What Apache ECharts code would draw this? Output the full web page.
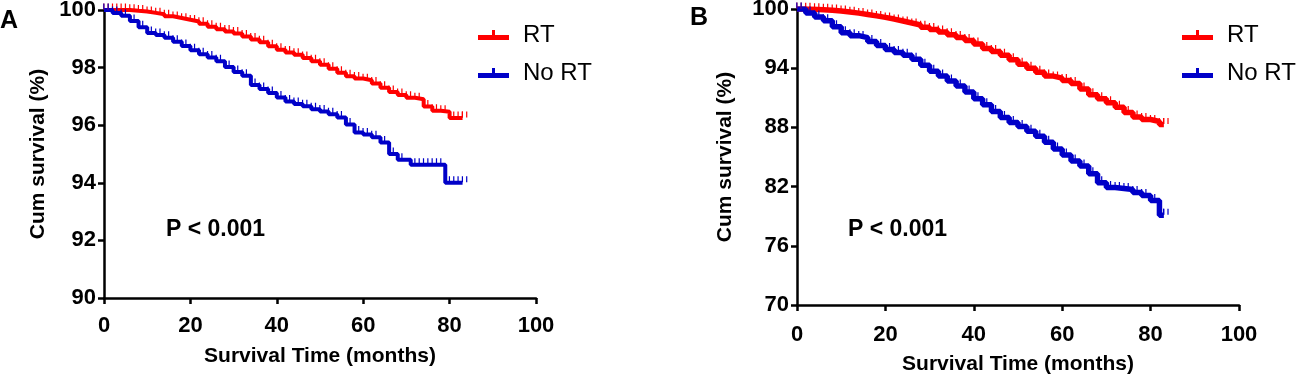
<!DOCTYPE html>
<html>
<head>
<meta charset="utf-8">
<script src="https://cdn.jsdelivr.net/npm/echarts@6/dist/echarts.min.js"></script>
<style>
  html, body { margin: 0; padding: 0; background: #fff; }
  #chart { width: 1298px; height: 375px; }
</style>
</head>
<body>
<div id="chart"></div>
<script>
// panel A
const timeA_RT = [0, 2, 4, 6, 8, 10, 12, 14, 16, 18, 20, 22, 24, 26, 28, 30, 32, 34, 36, 38, 40, 42, 44, 46, 48, 50, 52, 54, 56, 58, 60, 62, 64, 66, 68, 70, 72, 74, 76, 78, 80, 82, 83];
const survA_RT = [100, 100, 100, 99.97, 99.95, 99.9, 99.85, 99.78, 99.72, 99.66, 99.6, 99.52, 99.42, 99.33, 99.25, 99.18, 99.08, 98.98, 98.88, 98.74, 98.62, 98.52, 98.45, 98.33, 98.22, 98.1, 97.96, 97.82, 97.7, 97.62, 97.56, 97.45, 97.3, 97.15, 97.05, 96.95, 96.9, 96.65, 96.5, 96.47, 96.25, 96.25, 96.25];
const timeA_NoRT = [0, 2, 4, 6, 8, 10, 12, 14, 16, 18, 20, 22, 24, 26, 28, 30, 32, 34, 36, 38, 40, 42, 44, 46, 48, 50, 52, 54, 56, 58, 60, 62, 64, 66, 68, 71, 73, 75, 77, 79, 81, 83];
const survA_NoRT = [100, 99.9, 99.8, 99.62, 99.4, 99.2, 99.13, 99.04, 98.9, 98.75, 98.6, 98.46, 98.35, 98.22, 98.02, 97.85, 97.72, 97.4, 97.26, 97.12, 96.96, 96.82, 96.74, 96.66, 96.55, 96.48, 96.38, 96.27, 96.02, 95.75, 95.68, 95.58, 95.4, 95.0, 94.8, 94.63, 94.63, 94.63, 94.63, 94.0, 94.0, 94.0];

// panel B
const timeB_RT = [0, 2, 4, 6, 8, 10, 12, 14, 16, 18, 20, 22, 24, 26, 28, 30, 32, 34, 36, 38, 40, 42, 44, 46, 48, 50, 52, 54, 56, 58, 60, 62, 64, 66, 68, 70, 72, 74, 76, 78, 80, 82, 83];
const survB_RT = [100, 99.98, 99.93, 99.87, 99.8, 99.7, 99.58, 99.45, 99.3, 99.15, 98.98, 98.78, 98.58, 98.38, 98.15, 97.93, 97.68, 97.4, 97.1, 96.8, 96.45, 96.0, 95.7, 95.3, 94.85, 94.4, 94.0, 93.6, 93.2, 93.0, 92.75, 92.45, 91.9, 91.3, 90.9, 90.5, 90.05, 89.5, 89.05, 88.8, 88.6, 88.3, 88.3];
const timeB_NoRT = [0, 2, 4, 6, 8, 10, 12, 14, 16, 18, 20, 22, 24, 26, 28, 30, 32, 34, 36, 38, 40, 42, 44, 46, 48, 50, 52, 54, 56, 58, 60, 62, 64, 66, 68, 70, 72, 74, 76, 78, 80, 82, 83];
const survB_NoRT = [100, 99.6, 99.2, 98.8, 98.2, 97.6, 97.3, 97.1, 96.7, 96.3, 95.9, 95.6, 95.3, 94.9, 94.3, 93.7, 93.2, 92.7, 92.2, 91.6, 90.9, 90.3, 89.6, 89.0, 88.5, 88.1, 87.6, 87.1, 86.5, 85.8, 85.2, 84.6, 84.1, 83.3, 82.4, 81.9, 81.8, 81.7, 81.4, 81.1, 80.6, 79.1, 79.1];

const xTicks = [0, 20, 40, 60, 80, 100];
const yTicksA = [90, 92, 94, 96, 98, 100];
const yTicksB = [70, 76, 82, 88, 94, 100];

const groups = ["RT", "No RT"];
const RED = "#ff0000";
const BLUE = "#0000c8";
const FONT = "'Liberation Sans', Arial, sans-serif";

const pairs = (t, s) => t.map((v, i) => [v, s[i]]);

const axisLine = { show: true, lineStyle: { color: "#000", width: 2.5 } };
const axisTick = { show: true, length: 6, lineStyle: { color: "#000", width: 2.5 } };
const labelStyle = { color: "#000", fontSize: 22, fontWeight: "bold", fontFamily: FONT };
const nameStyle = { color: "#000", fontSize: 21, fontWeight: "bold", fontFamily: FONT };

function makeX(gridIndex, margin, gap) {
  return {
    type: "value", gridIndex,
    min: xTicks[0], max: xTicks[xTicks.length - 1], interval: 20,
    axisLine, axisTick,
    axisLabel: Object.assign({ margin }, labelStyle),
    splitLine: { show: false },
    name: "Survival Time (months)", nameLocation: "middle", nameGap: gap,
    nameTextStyle: nameStyle,
  };
}
function makeY(gridIndex, ticks, gap) {
  return {
    type: "value", gridIndex,
    min: ticks[0], max: ticks[ticks.length - 1], interval: ticks[1] - ticks[0],
    axisLine, axisTick,
    axisLabel: Object.assign({ margin: 8 }, labelStyle),
    splitLine: { show: false },
    name: "Cum survival (%)", nameLocation: "middle", nameGap: gap,
    nameTextStyle: nameStyle,
  };
}

// censor marks: a pair of short vertical ticks standing on the line
const censorMark = "path://M0,0 L1.2,0 L1.2,6 L0,6 Z M4.3,0 L5.5,0 L5.5,6 L4.3,6 Z";
function kmSeries(name, color, data, idx, width) {
  return {
    name, type: "line", step: "end",
    xAxisIndex: idx, yAxisIndex: idx,
    data,
    lineStyle: { color, width },
    itemStyle: { color },
    symbol: censorMark, symbolSize: [5.5, 6], symbolOffset: [2, -3.5],
    showSymbol: true,
    emphasis: { disabled: true },
  };
}

const legendIcon = "path://M0,6 L31,6 L31,11 L0,11 Z M14,1 L17,1 L17,6 L14,6 Z";
function makeLegend(left) {
  return {
    data: groups, left, top: 18, orient: "vertical",
    icon: legendIcon, itemWidth: 31, itemHeight: 11, itemGap: 14,
    textStyle: { color: "#000", fontSize: 24, fontFamily: FONT, lineHeight: 24, padding: [0, 0, 0, 9] },
  };
}

const chart = echarts.init(document.getElementById("chart"), null, { renderer: "canvas" });
chart.setOption({
  animation: false,
  backgroundColor: "#fff",
  grid: [
    { left: 104, top: 10, width: 432, height: 288, outerBoundsMode: "none", containLabel: false },
    { left: 797, top: 9, width: 442, height: 296, outerBoundsMode: "none", containLabel: false },
  ],
  xAxis: [makeX(0, 17, 48), makeX(1, 19, 49)],
  yAxis: [makeY(0, yTicksA, 55), makeY(1, yTicksB, 61)],
  legend: [makeLegend(473), makeLegend(1177)],
  series: [
    kmSeries("RT", RED, pairs(timeA_RT, survA_RT), 0, 4),
    kmSeries("No RT", BLUE, pairs(timeA_NoRT, survA_NoRT), 0, 4),
    kmSeries("RT", RED, pairs(timeB_RT, survB_RT), 1, 5.5),
    kmSeries("No RT", BLUE, pairs(timeB_NoRT, survB_NoRT), 1, 5.5),
  ],
  graphic: [
    { type: "text", left: 0, top: 9, style: { text: "A", fontSize: 25, fontWeight: "bold", fontFamily: FONT, fill: "#000" } },
    { type: "text", left: 690, top: 6, style: { text: "B", fontSize: 25, fontWeight: "bold", fontFamily: FONT, fill: "#000" } },
    { type: "text", left: 166, top: 218, style: { text: "P < 0.001", fontSize: 23, fontWeight: "bold", fontFamily: FONT, fill: "#000" } },
    { type: "text", left: 848, top: 218, style: { text: "P < 0.001", fontSize: 23, fontWeight: "bold", fontFamily: FONT, fill: "#000" } },
  ],
});
</script>
</body>
</html>
